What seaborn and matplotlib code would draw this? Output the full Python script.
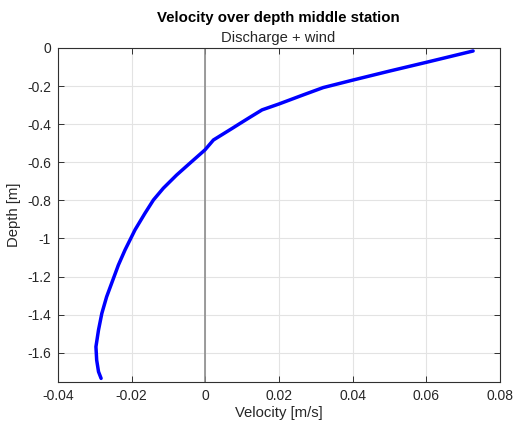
import matplotlib
matplotlib.use("Agg")
import matplotlib.pyplot as plt
import seaborn as sns
import pandas as pd
from matplotlib.ticker import FormatStrFormatter

# Velocity profile at the middle station (discharge + wind case)
velocity = [0.0727, 0.0601, 0.0501, 0.0402, 0.0320, 0.0265, 0.0200, 0.0154,
            0.0121, 0.0096, 0.0073, 0.0022, -0.0001, -0.0042, -0.0078,
            -0.0114, -0.0141, -0.0164, -0.0191, -0.0218, -0.0236,
            -0.0268, -0.0281, -0.0290, -0.0297, -0.0295, -0.0290, -0.0283]
depth = [-0.016, -0.075, -0.121, -0.168, -0.208, -0.247, -0.294, -0.325,
         -0.364, -0.394, -0.422, -0.483, -0.535, -0.605, -0.667,
         -0.736, -0.798, -0.868, -0.955, -1.060, -1.139,
         -1.306, -1.393, -1.480, -1.568, -1.638, -1.699, -1.734]

x_ticks = [-0.04, -0.02, 0, 0.02, 0.04, 0.06, 0.08]
y_ticks = [0, -0.2, -0.4, -0.6, -0.8, -1.0, -1.2, -1.4, -1.6]

sns.set_theme(style="whitegrid")
plt.rcParams["font.family"] = ["Liberation Sans", "DejaVu Sans"]
plt.rcParams["axes.unicode_minus"] = False

df = pd.DataFrame({"Velocity": velocity, "Depth": depth})

fig = plt.figure(figsize=(5.16, 4.28), dpi=100)
ax = fig.add_axes([0.1124, 0.1075, 0.8566, 0.7805])

ax.axvline(0, color="#8c8c8c", lw=1.2, zorder=1)
sns.lineplot(data=df, x="Velocity", y="Depth", sort=False, estimator=None,
             color="#0000ff", lw=2.5, ax=ax, zorder=3,
             solid_joinstyle="round", solid_capstyle="round")

ax.set_xlim(-0.04, 0.08)
ax.set_ylim(-1.753, 0)
ax.set_xticks(x_ticks)
ax.set_yticks(y_ticks)
ax.xaxis.set_major_formatter(FormatStrFormatter("%g"))
ax.yaxis.set_major_formatter(FormatStrFormatter("%g"))

ax.grid(True, color="#e3e3e3", lw=0.8)
for s in ax.spines.values():
    s.set_visible(True)
    s.set_color("#303030")
    s.set_linewidth(0.8)
ax.tick_params(direction="in", length=4, width=0.7, color="#303030",
               top=True, right=True, bottom=True, left=True,
               labelsize=10, labelcolor="#262626", pad=5)

ax.set_xlabel("Velocity [m/s]", fontsize=10.7, color="#262626", labelpad=2)
ax.set_ylabel("Depth [m]", fontsize=10.7, color="#262626", labelpad=4)

fig.text(0.5395, 0.958, "Velocity over depth middle station", ha="center",
         va="center", fontsize=10.8, fontweight="bold", color="black")
fig.text(0.5395, 0.912, "Discharge + wind", ha="center", va="center",
         fontsize=10.6, color="#262626")

fig.savefig("out.png", dpi=100, facecolor="white")
